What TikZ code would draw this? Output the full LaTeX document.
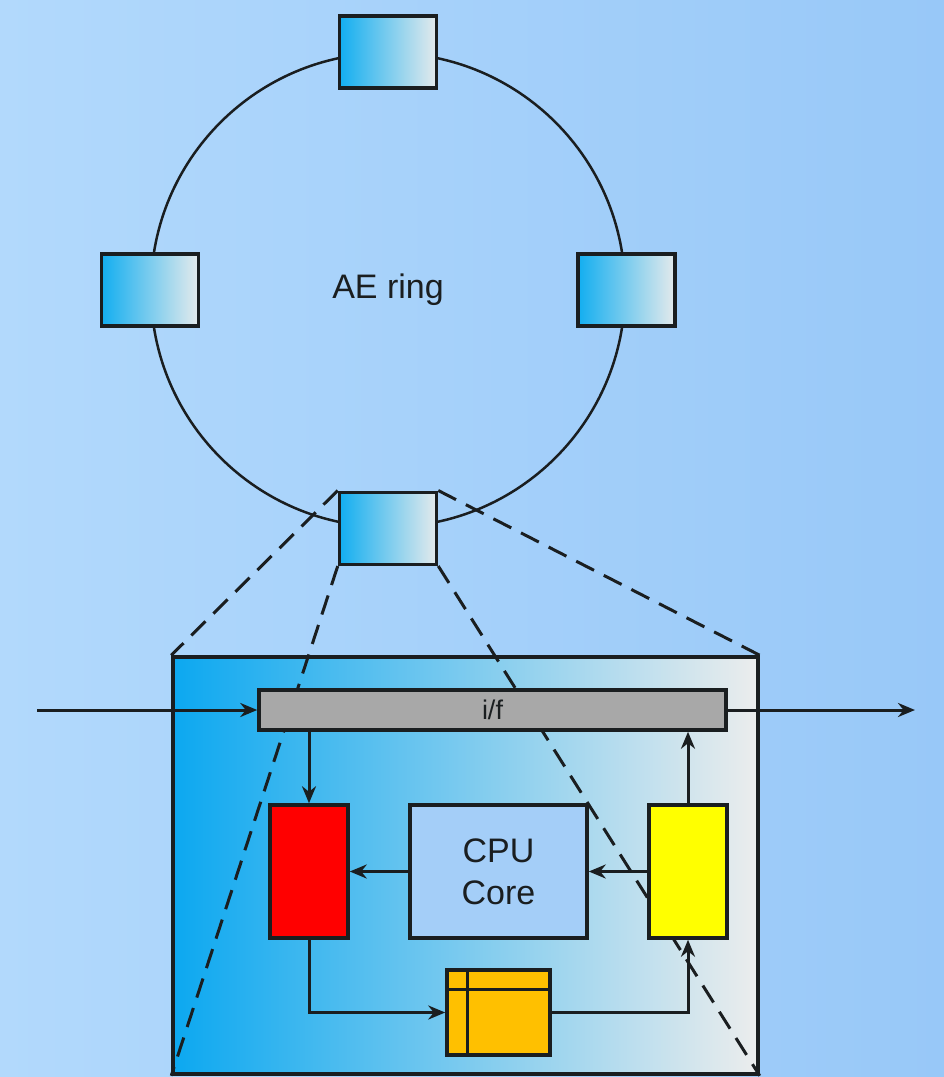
\documentclass[tikz,border=0pt]{standalone}
\usepackage{fontspec}
\setmainfont{Liberation Sans}
\usetikzlibrary{arrows.meta, positioning}
\definecolor{bgleft}{HTML}{B2D9FC}
\definecolor{bgright}{HTML}{98C8F8}
\definecolor{unitleft}{HTML}{12AEF0}
\definecolor{unitright}{HTML}{E4EAEC}
\definecolor{chipleft}{HTML}{0CA8F0}
\definecolor{chipright}{HTML}{ECEDED}
\definecolor{edge}{HTML}{1A1E20}
\definecolor{busgrey}{HTML}{A8A8A8}
\definecolor{cpufill}{HTML}{A4CEF8}
\definecolor{memorange}{HTML}{FFC000}
\definecolor{txyellow}{HTML}{FFFF00}
\tikzset{
    ringdiagram/.style={>={Stealth[length=17pt,width=14pt]}, x=1pt, y=-1pt,
        font=\fontsize{34}{42}\selectfont, text=edge},
    ring/.style={draw=edge, circle, line width=2.5pt, minimum size=474pt, inner sep=0pt},
    ringnode/.style={draw=edge, line width=3.5pt, left color=unitleft, right color=unitright,
        minimum width=97pt, minimum height=72pt, inner sep=0pt},
    chip/.style={draw=edge, line width=3.5pt, left color=chipleft, right color=chipright,
        minimum width=585pt, minimum height=417pt, inner sep=0pt},
    unit/.style={draw=edge, line width=3.5pt, minimum width=78pt, minimum height=133pt, inner sep=0pt},
    bus/.style={draw=edge, line width=3.5pt, fill=busgrey, minimum width=467pt, minimum height=40pt,
        inner sep=0pt, font=\fontsize{27}{30}\selectfont},
    % perspective lines from the zoomed ring node to the chip
    zoomline/.style={draw=edge, line width=3pt, dash pattern=on 20pt off 11pt},
    link/.style={->, draw=edge, line width=3pt},
}

\begin{document}
\begin{tikzpicture}[ringdiagram]
    \fill[left color=bgleft, right color=bgright] (0,0) rectangle (944,1077);
    \useasboundingbox (0,0) rectangle (944,1077);

    \node[ring]     (ring)   at (388,290)   {AE ring};
    \node[ringnode] (ntop)   at (ring.north) {};
    \node[ringnode] (nleft)  at (ring.west)  {};
    \node[ringnode] (nright) at (ring.east)  {};
    \node[ringnode] (nbot)   at (ring.south) {};

    \node[chip] (chip) at (465.5,865.5) {};
    \draw[zoomline] (nbot.north west) -- (chip.north west);
    \draw[zoomline] (nbot.north east) -- (chip.north east);
    \draw[zoomline] (nbot.south west) -- (chip.south west);
    \draw[zoomline] (nbot.south east) -- (chip.south east);

    \coordinate (in)  at (37,710);
    \coordinate (out) at (915,710);
    \node[bus] (bus) at (492.5,710) {i/f};
    \node[unit, fill=red]                      (rx)  at (309,871.5) {};
    \node[unit, fill=cpufill, minimum width=177pt, align=center,
          right=58.5pt of rx]                  (cpu) {CPU\\Core};
    \node[unit, fill=txyellow, right=58.5pt of cpu] (tx)  {};
    \node[unit, fill=memorange, minimum width=103pt, minimum height=85pt]
                                               (mem) at (498.5,1012.5) {};
    \draw[edge, line width=3pt] ([xshift=22pt]mem.north west) -- ([xshift=22pt]mem.south west);
    \draw[edge, line width=3pt] ([yshift=-21pt]mem.north west) -- ([yshift=-21pt]mem.north east);

    \draw[link] (in) -- (bus);
    \draw[link] (bus) -- (out);
    \draw[link] (bus.south -| rx.north) -- (rx.north);
    \draw[link] (cpu.west) -- (rx.east);
    \draw[link] (tx.west) -- (cpu.east);
    \draw[link] (tx.north) -- (tx.north |- bus.south);
    \draw[link] (rx.south) |- (mem.west);
    \draw[link] (mem.east) -| (tx.south);
\end{tikzpicture}
\end{document}
